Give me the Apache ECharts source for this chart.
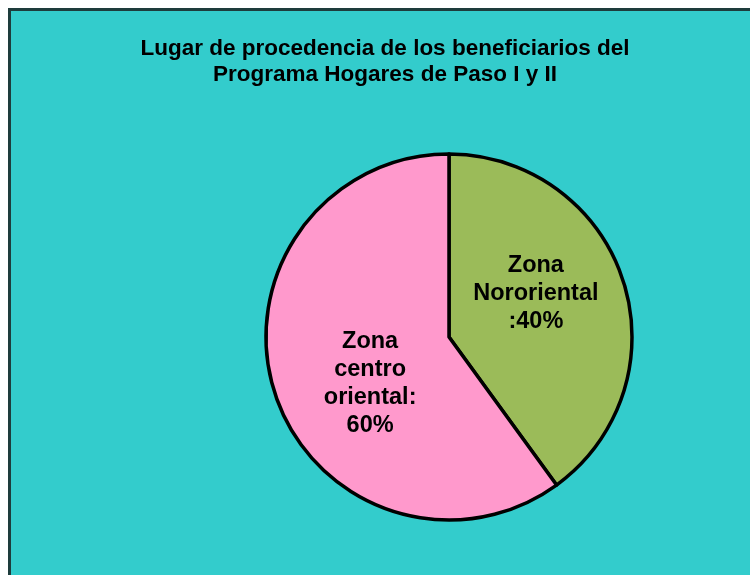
<!DOCTYPE html>
<html>
<head>
<meta charset="utf-8">
<script src="https://cdn.jsdelivr.net/npm/echarts@6/dist/echarts.min.js"></script>
<style>
  html, body { margin: 0; padding: 0; background: #fff; }
  .frame {
    position: absolute;
    left: 8px; top: 8px;
    width: 742px; height: 567px;
    border-left: 3px solid #1e3c3c;
    border-top: 3px solid #1e3c3c;
    box-sizing: border-box;
  }
  #chart { width: 739px; height: 564px; }
</style>
</head>
<body>
<div class="frame"><div id="chart"></div></div>
<script>
// datos del gráfico
const titleLines = ['Lugar de procedencia de los beneficiarios del', 'Programa Hogares de Paso I y II'];
const zonas = ['Zona\nNororiental\n:40%', 'Zona\ncentro\noriental:\n60%'];
const porcentajes = [40, 60];
const colores = ['#9BBB59', '#FF99CC'];
const labelOffsets = [[-3, -14], [11, 17]];

const chart = echarts.init(document.getElementById('chart'));

const option = {
  backgroundColor: '#33CCCC',
  animation: false,
  title: {
    text: titleLines.join('\n'),
    left: 374,
    top: 25,
    padding: 0,
    textAlign: 'center',
    textStyle: {
      fontFamily: 'Liberation Sans, Arial, sans-serif',
      fontSize: 22.5,
      fontWeight: 'bold',
      lineHeight: 26,
      color: '#000'
    }
  },
  series: [{
    type: 'pie',
    center: [438, 326],
    radius: 183,
    startAngle: 90,
    clockwise: true,
    silent: true,
    itemStyle: { borderColor: '#000', borderWidth: 3.5 },
    label: {
      position: 'inside',
      fontFamily: 'Liberation Sans, Arial, sans-serif',
      fontSize: 23.5,
      fontWeight: 'bold',
      lineHeight: 28,
      color: '#000',
      formatter: p => p.name
    },
    labelLine: { show: false },
    data: zonas.map((z, i) => ({
      name: z,
      value: porcentajes[i],
      itemStyle: { color: colores[i] },
      label: { offset: labelOffsets[i] }
    }))
  }]
};

chart.setOption(option);
</script>
</body>
</html>
